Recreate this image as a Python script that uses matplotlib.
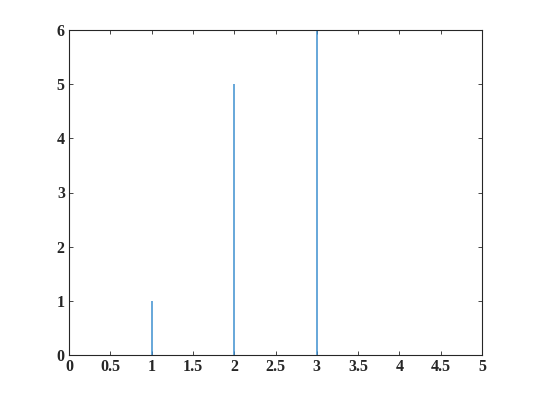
import matplotlib
matplotlib.use("Agg")
import matplotlib.pyplot as plt
import numpy as np

# Data
x_vals = [1, 2, 3]
heights = [1, 5, 6]
x_ticks = [0, 0.5, 1, 1.5, 2, 2.5, 3, 3.5, 4, 4.5, 5]
x_labels = ['0', '0.5', '1', '1.5', '2', '2.5', '3', '3.5', '4', '4.5', '5']
y_ticks = [0, 1, 2, 3, 4, 5, 6]

plt.rcParams['font.family'] = ['Liberation Serif', 'DejaVu Serif']
plt.rcParams['font.weight'] = 'bold'

fig = plt.figure(figsize=(5.33, 4.0), dpi=100)
ax = fig.add_axes([69/533, 1 - 355/400, (482 - 69)/533, (355 - 30)/400])

# very thin bars, drawn as stems so they all get the same pixel width
ax.vlines(x_vals, 0, heights, colors='#3d8fd0', linewidth=1.1)

ax.set_xlim(0, 5)
ax.set_ylim(0, 6)
ax.set_xticks(x_ticks)
ax.set_xticklabels(x_labels)
ax.set_yticks(y_ticks)
ax.tick_params(direction='in', top=True, right=True, length=3, width=0.6,
               labelsize=11.5, color='#262626', labelcolor='#262626', pad=3)
for s in ax.spines.values():
    s.set_linewidth(0.8)
    s.set_color('#262626')

fig.savefig('out.png', dpi=100)
